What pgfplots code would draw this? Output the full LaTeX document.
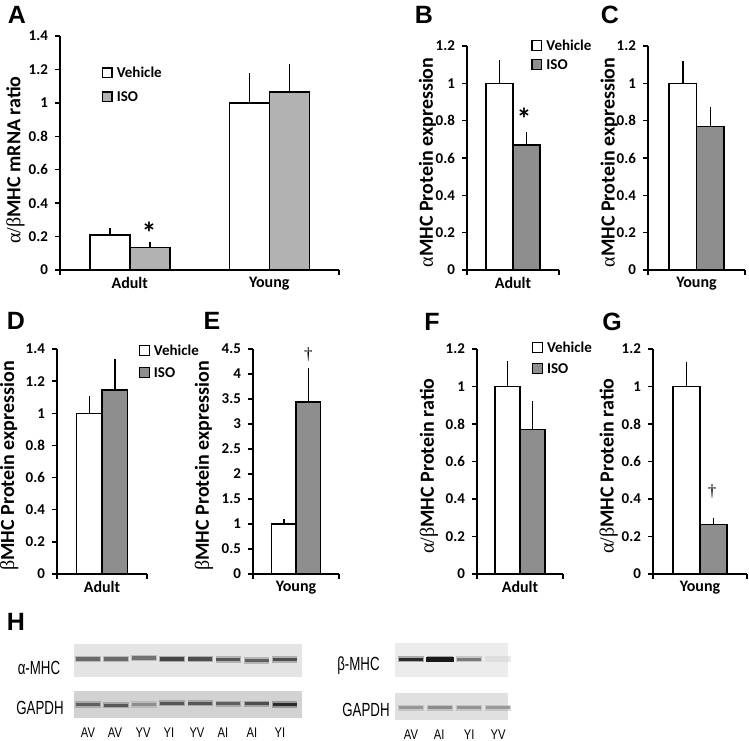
\documentclass[border=0pt]{standalone}
\usepackage{pgfplots}
\pgfplotsset{compat=1.18}
\usepackage{fontspec}
\setmainfont{Carlito}
\newfontfamily\lsans{Liberation Sans}
\newfontfamily\blotfont{Liberation Sans}[FakeStretch=0.7]
\newfontfamily\lanefont{Liberation Sans}[FakeStretch=0.8]
\newfontfamily\dagfont{Liberation Serif}
\newcommand{\gr}[1]{{\dagfont\mdseries #1}}
\definecolor{isoA}{RGB}{178,178,178}
\definecolor{iso}{RGB}{142,142,142}
\definecolor{blotA}{RGB}{228,228,228}
\definecolor{blotG}{RGB}{210,210,210}
\definecolor{blotB}{RGB}{236,236,236}
\definecolor{blotH}{RGB}{224,224,224}
\pgfplotsset{
  barpanel/.style={
    scale only axis, axis lines*=left, ymin=0, clip=false,
    axis line style={line width=0.75pt},
    tick align=outside, major tick length=2.5pt,
    every tick/.style={black, line width=0.75pt},
    ybar=0pt,
    /pgf/number format/assume math mode=true,
    yticklabel style={font=\bfseries\fontsize{7.5}{8}\selectfont},
    xticklabel style={font=\bfseries\fontsize{8}{9}\selectfont},
    ylabel style={font=\bfseries\fontsize{10}{11}\selectfont, anchor=center},
    xticklabels={},
    extra x tick style={major tick length=0pt},
    error bars/y dir=plus, error bars/y explicit, error bars/error mark=none,
    error bars/error bar style={line width=0.75pt, black},
    legend style={draw=none, fill=none, inner sep=0pt, outer sep=0pt,
      font=\bfseries\fontsize{7.5}{8}\selectfont, cells={anchor=west},
      nodes={inner ysep=0.5pt, inner xsep=0.9pt, text height=5.5pt, text depth=1pt}},
  },
  veh/.style={fill=white, draw=black, line width=0.75pt, legend image code/.code={\draw[fill=white, draw=black, line width=0.6pt] (0pt,-2.4pt) rectangle (4.8pt,2.4pt);}},
  isoplotA/.style={fill=isoA, draw=black, line width=0.75pt, legend image code/.code={\draw[fill=isoA, draw=black, line width=0.6pt] (0pt,-2.4pt) rectangle (4.8pt,2.4pt);}},
  isoplot/.style={fill=iso, draw=black, line width=0.75pt, legend image code/.code={\draw[fill=iso, draw=black, line width=0.6pt] (0pt,-2.4pt) rectangle (4.8pt,2.4pt);}},
  blotpanel/.style={
    scale only axis, ymin=-1, ymax=1, clip=false,
    axis line style={draw=none}, ytick=\empty, major tick length=0pt,
    xtick=\empty,
    point meta min=0, point meta max=1,
    colormap={blot}{rgb255=(205,205,205) rgb255=(25,25,25)},
    ticklabel style={font=\lanefont\fontsize{7}{8}\selectfont},
  },
  bandhalo/.style={scatter, only marks, mark=-, mark size=#1, opacity=0.35,
    scatter/use mapped color={draw=mapped color, line width=3.2pt}, point meta=explicit},
  bandcore/.style={scatter, only marks, mark=-, mark size=#1,
    scatter/use mapped color={draw=mapped color, line width=1.6pt}, point meta=explicit},
}
\newcommand{\lgd}[1]{\hspace{1.2pt}#1}
\begin{document}
\begin{tikzpicture}
\useasboundingbox (0,0) rectangle (374.5pt,-370pt);
% ---------- panel letters
\begin{scope}[every node/.style={font=\lsans\bfseries\fontsize{12.5}{14}\selectfont, inner sep=0pt, anchor=center}]
\node at (8.5pt,-7.25pt) {A};
\node at (212pt,-7.25pt) {B};
\node at (305pt,-7.25pt) {C};
\node at (8pt,-160.5pt) {D};
\node at (106pt,-160.5pt) {E};
\node at (216pt,-161pt) {F};
\node at (306pt,-161pt) {G};
\node at (8pt,-311pt) {H};
\end{scope}

% ---------- A
\begin{axis}[barpanel, at={(30pt,-135pt)}, anchor=south west,
  width=139.5pt, height=117pt, xmin=-0.5, xmax=1.5, ymax=1.4,
  ytick={0,0.2,0.4,0.6,0.8,1,1.2,1.4},
  xtick={-0.5,1.5}, extra x ticks={0,1}, extra x tick labels={Adult,Young},
  bar width=20pt,
  ylabel={\gr{α/β}MHC mRNA ratio},
  ylabel style={at={(axis description cs:-0.16,0.47)}},
  legend style={at={(axis description cs:0.15,0.875)}, anchor=north west, row sep=4.5pt}]
\addplot[veh] coordinates {(0,0.21) +- (0,0.04) (1,1.0) +- (0,0.18)};
\addplot[isoplotA] coordinates {(0,0.135) +- (0,0.035) (1,1.065) +- (0,0.165)};
\legend{\lgd{Vehicle},\lgd{ISO}}
\node[font=\bfseries\fontsize{15}{15}\selectfont, inner sep=0pt] at (axis cs:0.138,0.22) {*};
\end{axis}

% ---------- B
\begin{axis}[barpanel, at={(233.5pt,-135pt)}, anchor=south west,
  width=46pt, height=112pt, xmin=-1, xmax=1, ymax=1.2,
  ytick={0,0.2,0.4,0.6,0.8,1,1.2},
  xtick={-1,1}, extra x ticks={0}, extra x tick labels={Adult},
  bar width=13.5pt,
  ylabel={\gr{α}MHC Protein expression},
  ylabel style={at={(axis description cs:-0.43,0.48)}},
  legend style={at={(axis description cs:0.70,1.035)}, anchor=north west, row sep=2pt}]
\addplot[veh] coordinates {(0,1.0) +- (0,0.125)};
\addplot[isoplot] coordinates {(0,0.67) +- (0,0.07)};
\legend{\lgd{Vehicle},\lgd{ISO}}
\node[font=\bfseries\fontsize{15}{15}\selectfont, inner sep=0pt] at (axis cs:0.24,0.81) {*};
\end{axis}

% ---------- C
\begin{axis}[barpanel, at={(324pt,-135pt)}, anchor=south west,
  width=48.5pt, height=112pt, xmin=-1, xmax=1, ymax=1.2,
  ytick={0,0.2,0.4,0.6,0.8,1,1.2},
  xtick={-1,1}, extra x ticks={0}, extra x tick labels={Young},
  bar width=13.75pt,
  ylabel={\gr{α}MHC Protein expression},
  ylabel style={at={(axis description cs:-0.40,0.48)}}]
\addplot[veh] coordinates {(0,1.0) +- (0,0.12)};
\addplot[isoplot] coordinates {(0,0.77) +- (0,0.105)};
\end{axis}

% ---------- D
\begin{axis}[barpanel, at={(28.5pt,-287pt)}, anchor=south west,
  width=45pt, height=112.5pt, xmin=-1, xmax=1, ymax=1.4,
  ytick={0,0.2,0.4,0.6,0.8,1,1.2,1.4},
  xtick={-1,1}, extra x ticks={0}, extra x tick labels={Adult},
  bar width=12.75pt,
  ylabel={\gr{β}MHC Protein expression},
  ylabel style={at={(axis description cs:-0.53,0.48)}},
  legend style={at={(axis description cs:0.91,1.026)}, anchor=north west, row sep=3.5pt}]
\addplot[veh] coordinates {(0,1.0) +- (0,0.11)};
\addplot[isoplot] coordinates {(0,1.145) +- (0,0.195)};
\legend{\lgd{Vehicle},\lgd{ISO}}
\end{axis}

% ---------- E
\begin{axis}[barpanel, at={(126.5pt,-287pt)}, anchor=south west,
  width=43pt, height=112.5pt, xmin=-1, xmax=1, ymax=4.5,
  ytick={0,0.5,1,1.5,2,2.5,3,3.5,4,4.5},
  xtick={-1,1}, extra x ticks={0}, extra x tick labels={Young},
  bar width=12.25pt,
  ylabel={\gr{β}MHC Protein expression},
  ylabel style={at={(axis description cs:-0.57,0.48)}}]
\addplot[veh] coordinates {(0,1.0) +- (0,0.1)};
\addplot[isoplot] coordinates {(0,3.44) +- (0,0.69)};
\node[font=\dagfont\fontsize{8.5}{8.5}\selectfont, inner sep=0pt] at (axis cs:0.29,4.38) {†};
\end{axis}

% ---------- F
\begin{axis}[barpanel, at={(238.5pt,-287pt)}, anchor=south west,
  width=43pt, height=112.5pt, xmin=-1, xmax=1, ymax=1.2,
  ytick={0,0.2,0.4,0.6,0.8,1,1.2},
  xtick={-1,1}, extra x ticks={0}, extra x tick labels={Adult},
  bar width=12.5pt,
  ylabel={\gr{α/β}MHC Protein ratio},
  ylabel style={at={(axis description cs:-0.56,0.48)}},
  legend style={at={(axis description cs:0.64,1.04)}, anchor=north west, row sep=3pt}]
\addplot[veh] coordinates {(0,1.0) +- (0,0.135)};
\addplot[isoplot] coordinates {(0,0.77) +- (0,0.155)};
\legend{\lgd{Vehicle},\lgd{ISO}}
\end{axis}

% ---------- G
\begin{axis}[barpanel, at={(326.5pt,-287pt)}, anchor=south west,
  width=47pt, height=112.5pt, xmin=-1, xmax=1, ymax=1.2,
  ytick={0,0.2,0.4,0.6,0.8,1,1.2},
  xtick={-1,1}, extra x ticks={0}, extra x tick labels={Young},
  bar width=13.5pt,
  ylabel={\gr{α/β}MHC Protein ratio},
  ylabel style={at={(axis description cs:-0.47,0.48)}}]
\addplot[veh] coordinates {(0,1.0) +- (0,0.13)};
\addplot[isoplot] coordinates {(0,0.265) +- (0,0.035)};
\node[font=\dagfont\fontsize{8.5}{8.5}\selectfont, inner sep=0pt] at (axis cs:0.26,0.437) {†};
\end{axis}

% ---------- H : blots
\begin{scope}[every node/.style={font=\blotfont\fontsize{9.5}{10}\selectfont, inner sep=0pt, anchor=center}]
\node at (19.5pt,-333.75pt) {α-MHC};
\node at (20pt,-353.75pt) {GAPDH};
\node at (179.25pt,-333pt) {β-MHC};
\node at (183pt,-355pt) {GAPDH};
\end{scope}

\begin{axis}[blotpanel, at={(37pt,-338.5pt)}, anchor=south west,
  width=114pt, height=16.5pt, xmin=0.5, xmax=8.62,
  axis background/.style={fill=blotA}]
\addplot[bandhalo=6.4pt] coordinates {(1,0.09) [0.55] (2,0.09) [0.55] (3,0.15) [0.5] (4,0.09) [0.75] (5,0.09) [0.7] (6,0.05) [0.65] (7,0.0) [0.6] (8,0.05) [0.7]};
\addplot[bandcore=6pt] coordinates {(1,0.09) [0.55] (2,0.09) [0.55] (3,0.15) [0.5] (4,0.09) [0.75] (5,0.09) [0.7] (6,0.05) [0.65] (7,0.0) [0.6] (8,0.05) [0.7]};
\end{axis}

\begin{axis}[blotpanel, at={(37pt,-359pt)}, anchor=south west,
  width=114pt, height=13.5pt, xmin=0.5, xmax=8.62,
  axis background/.style={fill=blotG},
  xtick={1,1.96,2.96,3.88,4.88,5.80,6.84,7.83},
  xticklabels={AV,AV,YV,YI,YV,AI,AI,YI},
  xticklabel style={yshift=-1.5pt}]
\addplot[bandhalo=6.4pt] coordinates {(1,0.0) [0.6] (2,-0.05) [0.65] (3,0.0) [0.35] (4,0.1) [0.65] (5,0.1) [0.65] (6,0.05) [0.6] (7,0.05) [0.7] (8,0.0) [0.9]};
\addplot[bandcore=6pt] coordinates {(1,0.0) [0.6] (2,-0.05) [0.65] (3,0.0) [0.35] (4,0.1) [0.65] (5,0.1) [0.65] (6,0.05) [0.6] (7,0.05) [0.7] (8,0.0) [0.9]};
\end{axis}

\begin{axis}[blotpanel, at={(197.5pt,-338.5pt)}, anchor=south west,
  width=56.5pt, height=17pt, xmin=0.45, xmax=4.34,
  axis background/.style={fill=blotB}]
\addplot[bandhalo=6.4pt] coordinates {(1,0.05) [0.85] (2,0.05) [0.95] (3,0.05) [0.4] (4,0.05) [0.05]};
\addplot[bandcore=6.2pt] coordinates {(1,0.05) [0.9] (3,0.05) [0.45]};
\addplot[scatter, only marks, mark=-, mark size=6.8pt,
  scatter/use mapped color={draw=mapped color, line width=2.8pt}, point meta=explicit]
  coordinates {(2,0.02) [1.0]};
\end{axis}

\begin{axis}[blotpanel, at={(197.5pt,-360pt)}, anchor=south west,
  width=56.5pt, height=13.5pt, xmin=0.45, xmax=4.34,
  axis background/.style={fill=blotH},
  xtick={1,1.97,3.0,4.0},
  xticklabels={AV,AI,YI,YV},
  xticklabel style={yshift=-1.5pt}]
\addplot[bandhalo=6.4pt] coordinates {(1,-0.1) [0.3] (2,-0.1) [0.38] (3,-0.1) [0.32] (4,-0.1) [0.3]};
\addplot[bandcore=6pt] coordinates {(1,-0.1) [0.3] (2,-0.1) [0.36] (3,-0.1) [0.32] (4,-0.1) [0.28]};
\end{axis}
\end{tikzpicture}
\end{document}
